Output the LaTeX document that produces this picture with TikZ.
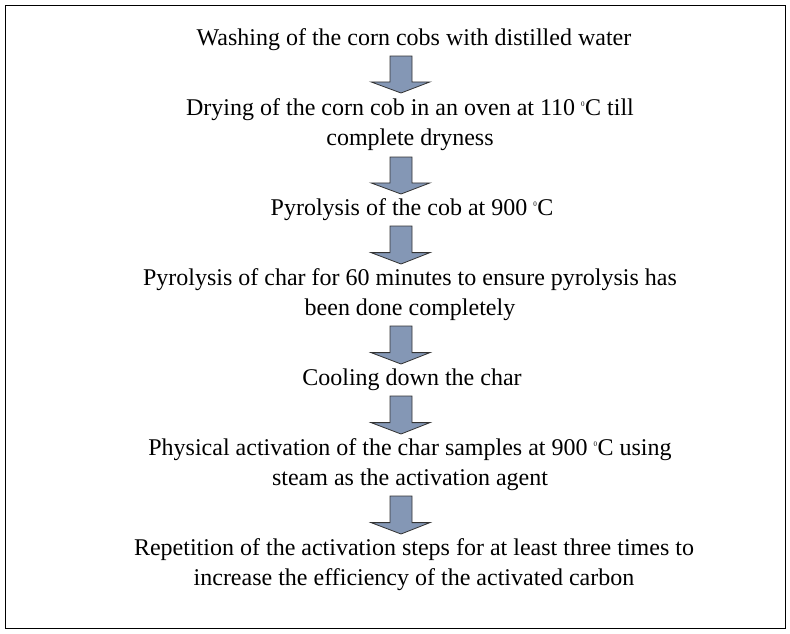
\documentclass[tikz,border=0pt]{standalone}
\usepackage{fontspec}
\setmainfont{Liberation Serif}
\definecolor{arrfill}{HTML}{8497B5}
\begin{document}
\begin{tikzpicture}[x=1pt,y=-1pt,
  txt/.style={font=\fontsize{24}{30}\selectfont, align=center, inner sep=0pt},
  arr/.style={fill=arrfill, draw=black!80, line width=0.8pt}]
\useasboundingbox (0,0) rectangle (790,633);
\draw[line width=1pt] (5,5) rectangle (785,628);
\newcommand{\downarr}[2]{%
 \pgfmathsetmacro{\hy}{#1+0.7*(#2-#1)}%
 \draw[arr] (390,#1) -- (412,#1) -- (412,\hy) -- (430,\hy) -- (401,#2) -- (371,\hy) -- (390,\hy) -- cycle;}
\node[txt] (t1) at (414,40) {Washing of the corn cobs with distilled water};
\node[txt] (t2) at (410,125) {Drying of the corn cob in an oven at 110 \textsuperscript{\scriptsize 0}C till\\complete dryness};
\node[txt] (t3) at (412,210) {Pyrolysis of the cob at 900 \textsuperscript{\scriptsize 0}C};
\node[txt] (t4) at (410,295) {Pyrolysis of char for 60 minutes to ensure pyrolysis has\\been done completely};
\node[txt] (t5) at (412,380) {Cooling down the char};
\node[txt] (t6) at (410,465) {Physical activation of the char samples at 900 \textsuperscript{\scriptsize 0}C using\\steam as the activation agent};
\node[txt] (t7) at (414,565) {Repetition of the activation steps for at least three times to\\increase the efficiency of the activated carbon};
\downarr{56}{93}
\downarr{157}{194}
\downarr{226}{264}
\downarr{326}{364}
\downarr{396}{434}
\downarr{496}{534}
\end{tikzpicture}
\end{document}
